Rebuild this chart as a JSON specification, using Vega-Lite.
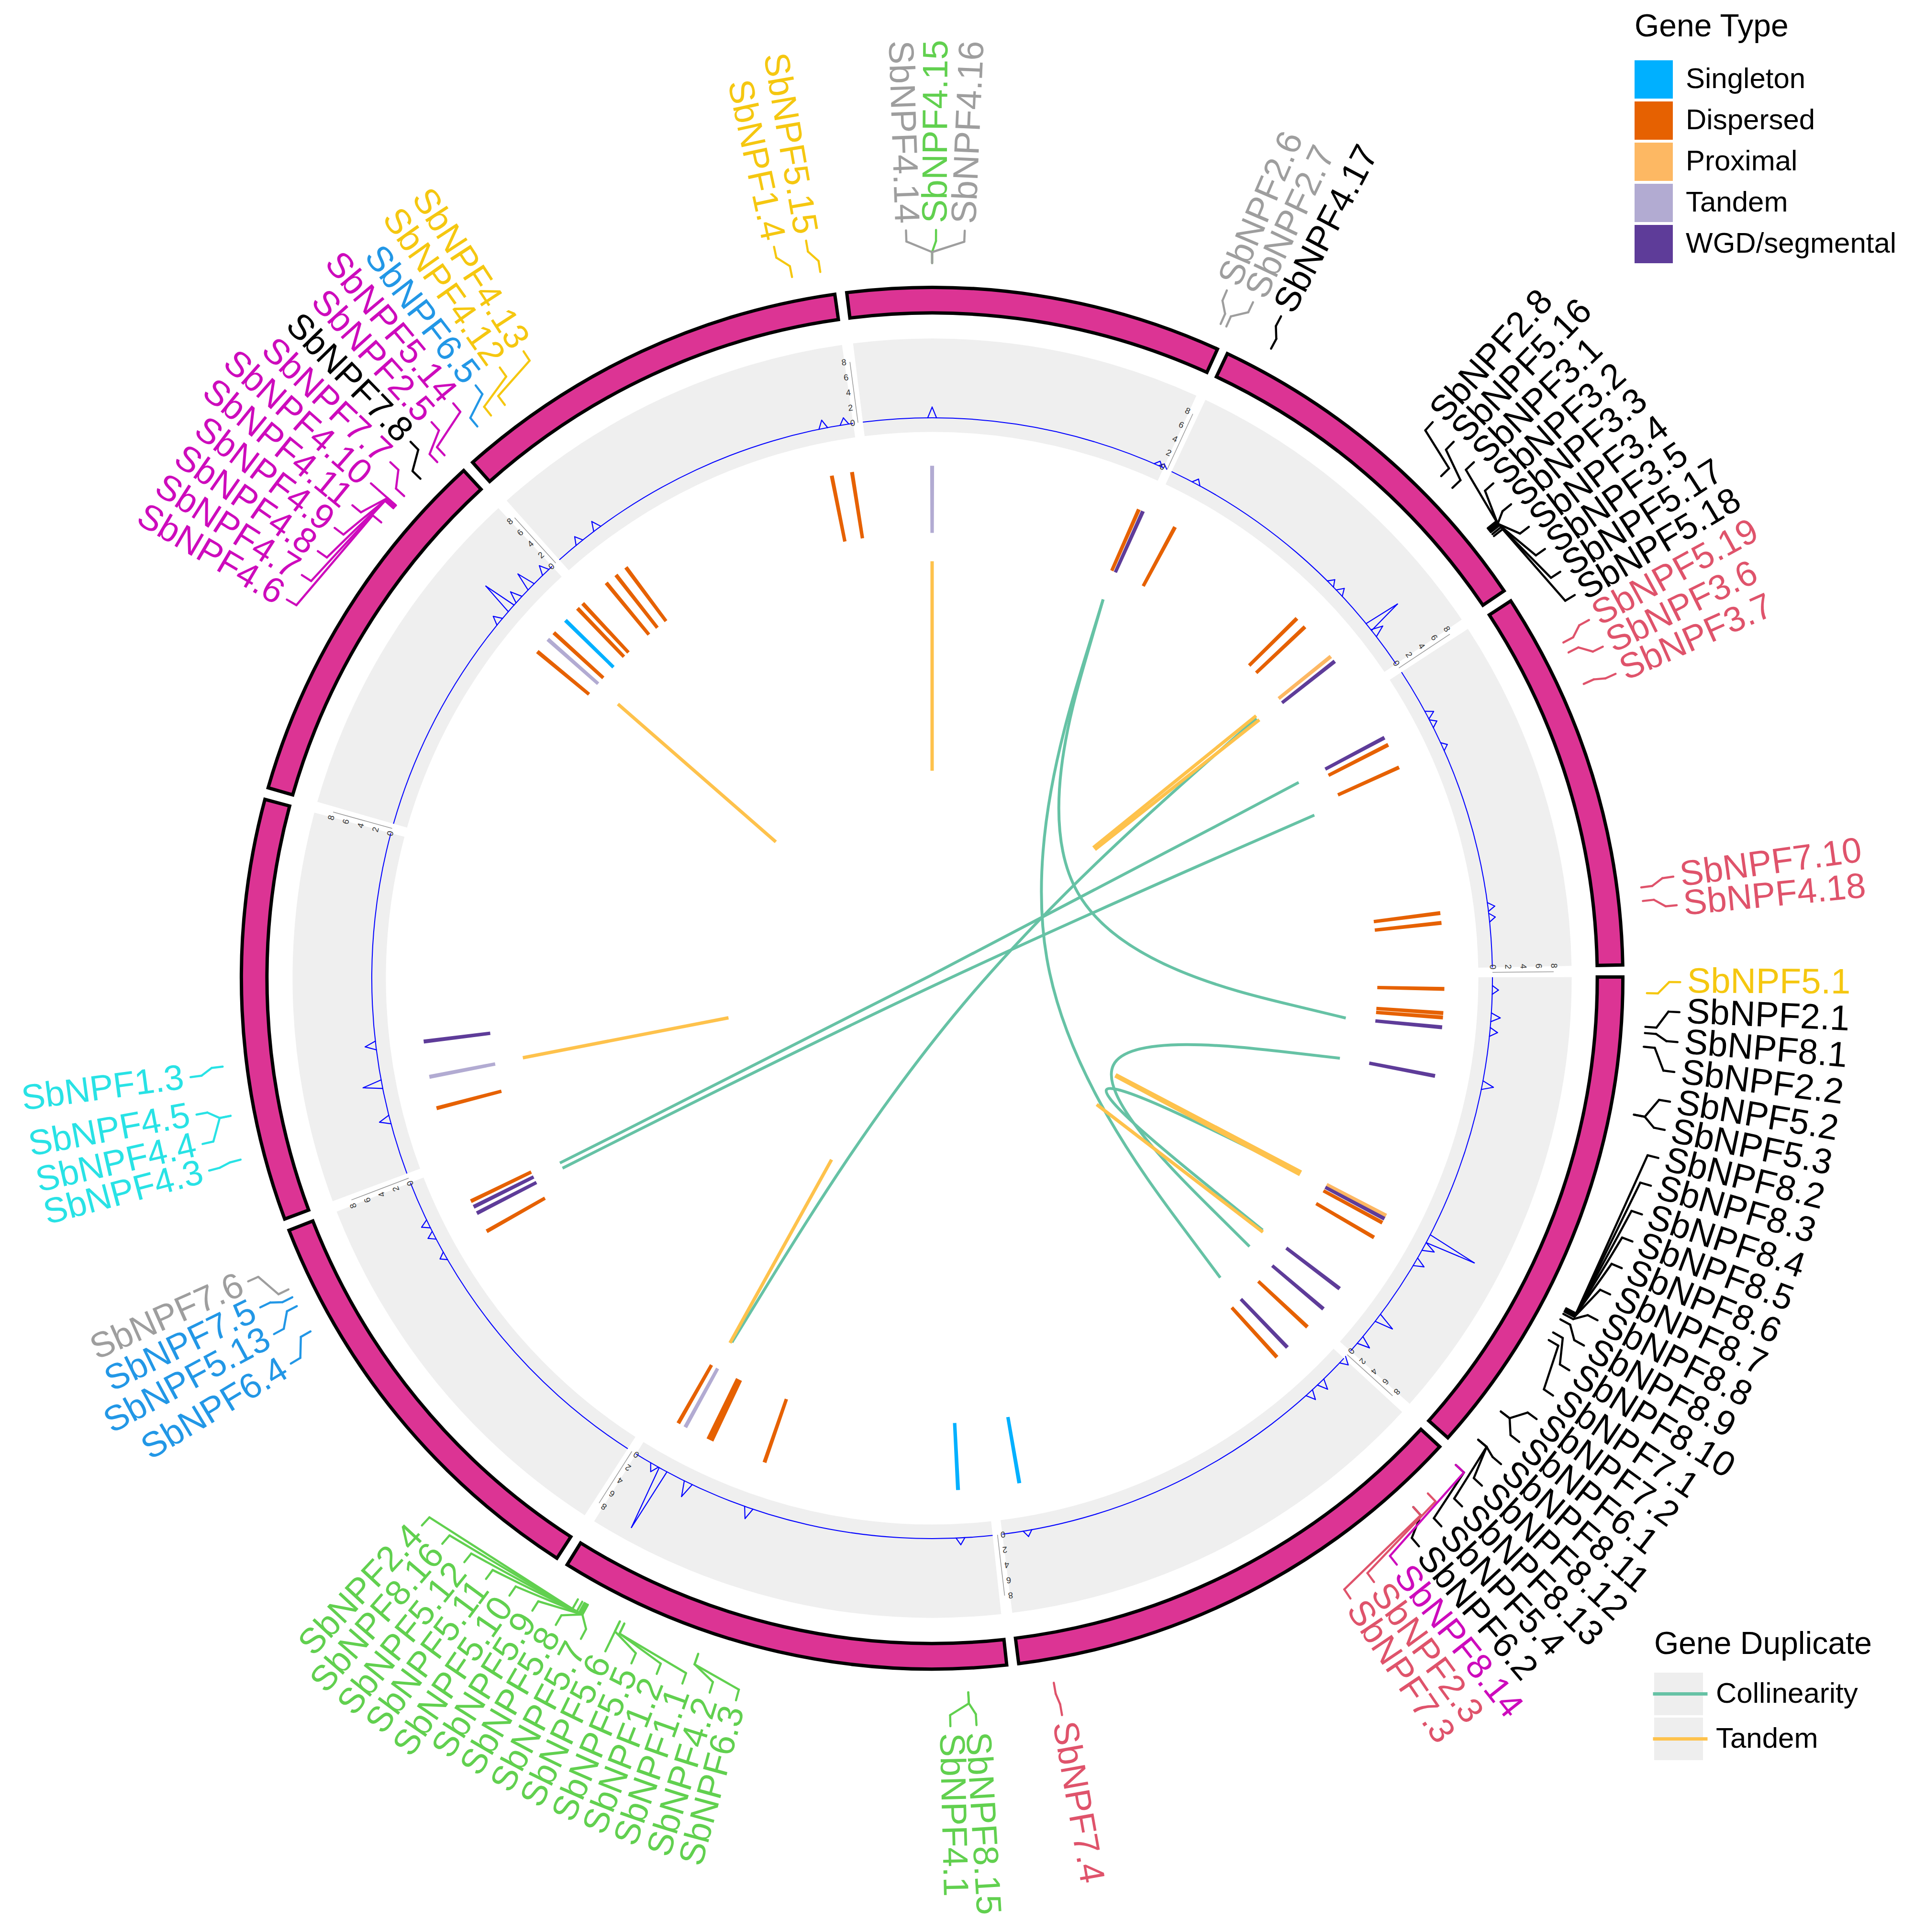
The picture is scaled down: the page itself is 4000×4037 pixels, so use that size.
{
"$schema": "https://vega.github.io/schema/vega-lite/v6.json",
"width": 4000, "height": 4037, "padding": 0, "autosize": {"type": "none"},
"background": "white",
"config": {"view": {"stroke": null}, "axis": {"disable": true}, "font": "Liberation Sans",
  "legend": {"titleFontWeight": "normal", "titleColor": "#000", "labelColor": "#000", "titleFont": "Liberation Sans", "labelFont": "Liberation Sans", "labelLimit": 2000, "titleLimit": 2000}},
"datasets": {
"chr": [
{"c":"Chr01","a0":89.9,"a1":131.7,"ticks":[0,2,4,6,8]},{"c":"Chr02","a0":132.7,"a1":172.8,"ticks":[0,2,4,6,8]},{"c":"Chr03","a0":173.8,"a1":211.9,"ticks":[0,2,4,6,8]},
{"c":"Chr04","a0":212.9,"a1":248.6,"ticks":[0,2,4,6,8]},{"c":"Chr05","a0":249.6,"a1":285.0,"ticks":[0,2,4,6,8]},{"c":"Chr06","a0":286.0,"a1":317.3,"ticks":[0,2,4,6,8]},
{"c":"Chr07","a0":318.3,"a1":351.9,"ticks":[0,2,4,6,8]},{"c":"Chr08","a0":352.9,"a1":384.4,"ticks":[0,2,4,6,8]},{"c":"Chr09","a0":385.3,"a1":415.9,"ticks":[0,2,4,6,8]},
{"c":"Chr10","a0":416.9,"a1":448.9,"ticks":[0,2,4,6,8]}],
"genes": [
{"a":309.6,"type":"Dispersed"},{"a":311.4,"type":"Tandem"},{"a":312.4,"type":"Dispersed"},{"a":314.3,"type":"Singleton"},
{"a":316.2,"type":"Dispersed"},{"a":317.0,"type":"Dispersed"},{"a":320.5,"type":"Dispersed"},{"a":321.9,"type":"Dispersed"},
{"a":323.3,"type":"Dispersed"},{"a":348.7,"type":"Dispersed"},{"a":351.0,"type":"Dispersed"},{"a":360.0,"type":"Tandem"},
{"a":383.8,"type":"Dispersed"},{"a":384.3,"type":"WGD/segmental"},{"a":388.3,"type":"Dispersed"},{"a":405.4,"type":"Dispersed"},
{"a":406.7,"type":"Dispersed"},{"a":411.1,"type":"Proximal"},{"a":411.8,"type":"WGD/segmental"},{"a":422.0,"type":"WGD/segmental"},
{"a":422.9,"type":"Dispersed"},{"a":425.7,"type":"Dispersed"},{"a":442.7,"type":"Dispersed"},{"a":443.8,"type":"Dispersed"},
{"a":91.2,"type":"Dispersed"},{"a":93.9,"type":"Dispersed"},{"a":94.4,"type":"Dispersed"},{"a":95.5,"type":"WGD/segmental"},
{"a":101.0,"type":"WGD/segmental"},{"a":117.6,"type":"Proximal"},{"a":118.0,"type":"WGD/segmental"},{"a":118.5,"type":"Dispersed"},
{"a":120.4,"type":"Dispersed"},{"a":127.3,"type":"WGD/segmental"},{"a":130.2,"type":"WGD/segmental"},{"a":132.9,"type":"Dispersed"},
{"a":136.1,"type":"WGD/segmental"},{"a":137.7,"type":"Dispersed"},{"a":170.2,"type":"Singleton"},{"a":177.1,"type":"Singleton"},
{"a":199.1,"type":"Dispersed"},{"a":205.5,"type":"Dispersed"},{"a":205.9,"type":"Dispersed"},{"a":208.8,"type":"Tandem"},
{"a":209.7,"type":"Dispersed"},{"a":240.4,"type":"Dispersed"},{"a":242.7,"type":"WGD/segmental"},{"a":243.5,"type":"WGD/segmental"},
{"a":244.2,"type":"Dispersed"},{"a":255.3,"type":"Dispersed"},{"a":258.9,"type":"Tandem"},{"a":262.9,"type":"WGD/segmental"}],
"tandem": [
{"a":0.0,"dup":"Tandem"},{"a":311.1,"dup":"Tandem"},{"a":51.0,"dup":"Tandem"},{"a":51.7,"dup":"Tandem"},
{"a":117.7,"dup":"Tandem"},{"a":118.1,"dup":"Tandem"},{"a":127.5,"dup":"Tandem"},{"a":209.0,"dup":"Tandem"},{"a":259.0,"dup":"Tandem"}],
"links": [
{"id":"A","i":1,"a":24.3,"r":0.601,"dup":"Collinearity"},{"id":"A","i":2,"a":80.2,"r":0.0841,"dup":"Collinearity"},{"id":"A","i":3,"a":136.1,"r":0.601,"dup":"Collinearity"},
{"id":"B","i":1,"a":24.3,"r":0.601,"dup":"Collinearity"},{"id":"B","i":2,"a":59.9,"r":0.1221,"dup":"Collinearity"},{"id":"B","i":3,"a":95.5,"r":0.601,"dup":"Collinearity"},
{"id":"C1","i":1,"a":61.9,"r":0.601,"dup":"Collinearity"},{"id":"C1","i":2,"a":332.75,"r":0.0022,"dup":"Collinearity"},{"id":"C1","i":3,"a":243.6,"r":0.601,"dup":"Collinearity"},
{"id":"C2","i":1,"a":66.9,"r":0.601,"dup":"Collinearity"},{"id":"C2","i":2,"a":154.85,"r":0.0054,"dup":"Collinearity"},{"id":"C2","i":3,"a":242.8,"r":0.601,"dup":"Collinearity"},
{"id":"D","i":1,"a":51.3,"r":0.601,"dup":"Collinearity"},{"id":"D","i":2,"a":130.05,"r":0.0293,"dup":"Collinearity"},{"id":"D","i":3,"a":208.8,"r":0.601,"dup":"Collinearity"},
{"id":"E","i":1,"a":101.1,"r":0.601,"dup":"Collinearity"},{"id":"E","i":2,"a":115.65,"r":0.1452,"dup":"Collinearity"},{"id":"E","i":3,"a":130.2,"r":0.601,"dup":"Collinearity"},
{"id":"F","i":1,"a":117.9,"r":0.601,"dup":"Collinearity"},{"id":"F","i":2,"a":122.6,"r":0.1495,"dup":"Collinearity"},{"id":"F","i":3,"a":127.3,"r":0.601,"dup":"Collinearity"}],
"spikes": [
{"a":309.5,"v":1.1},{"a":311.3,"v":4.4},{"a":312.5,"v":1.5},{"a":314.3,"v":2.4},{"a":316.4,"v":1.2},{"a":321.0,"v":1.0},
{"a":323.3,"v":1.2},{"a":348.8,"v":1.1},{"a":351.0,"v":0.9},{"a":0.0,"v":1.4},{"a":23.8,"v":0.6},{"a":24.3,"v":0.5},
{"a":28.1,"v":0.7},{"a":45.3,"v":0.8},{"a":46.6,"v":0.9},{"a":51.2,"v":4.8},{"a":52.0,"v":1.5},{"a":62.0,"v":1.0},
{"a":63.0,"v":0.8},{"a":65.6,"v":0.7},{"a":82.7,"v":0.9},{"a":83.8,"v":0.8},{"a":91.2,"v":0.8},{"a":94.0,"v":1.2},
{"a":95.5,"v":1.0},{"a":101.0,"v":1.5},{"a":117.7,"v":6.8},{"a":118.6,"v":1.5},{"a":120.4,"v":1.3},{"a":127.3,"v":2.4},
{"a":130.2,"v":1.6},{"a":132.9,"v":1.0},{"a":136.1,"v":1.3},{"a":137.7,"v":1.2},{"a":170.2,"v":0.8},{"a":177.1,"v":0.9},
{"a":199.1,"v":1.5},{"a":205.8,"v":2.0},{"a":208.7,"v":8.6},{"a":209.7,"v":1.0},{"a":240.3,"v":0.8},{"a":242.7,"v":0.9},
{"a":244.0,"v":1.0},{"a":255.4,"v":1.4},{"a":259.1,"v":2.5},{"a":263.1,"v":1.4}],
"labels": [
{"g":"SbNPF4.13","ga":323.3,"la":326.9,"grp":"7"},{"g":"SbNPF4.12","ga":321.9,"la":324.7,"grp":"7"},
{"g":"SbNPF6.5","ga":320.5,"la":322.4,"grp":"4"},{"g":"SbNPF5.14","ga":317.0,"la":320.2,"grp":"6"},
{"g":"SbNPF2.5","ga":316.2,"la":318.0,"grp":"6"},{"g":"SbNPF7.8","ga":314.3,"la":315.8,"grp":"1"},
{"g":"SbNPF7.7","ga":312.4,"la":313.6,"grp":"6"},{"g":"SbNPF4.10","ga":311.4,"la":311.4,"grp":"6"},
{"g":"SbNPF4.11","ga":311.4,"la":309.2,"grp":"6"},{"g":"SbNPF4.9","ga":311.3,"la":307.0,"grp":"6"},
{"g":"SbNPF4.8","ga":311.2,"la":304.8,"grp":"6"},{"g":"SbNPF4.7","ga":311.1,"la":302.6,"grp":"6"},
{"g":"SbNPF4.6","ga":309.6,"la":300.4,"grp":"6"},
{"g":"SbNPF1.4","ga":348.7,"la":347.8,"grp":"7"},{"g":"SbNPF5.15","ga":351.0,"la":350.3,"grp":"7"},
{"g":"SbNPF4.14","ga":0.0,"la":358.0,"grp":"8"},{"g":"SbNPF4.15","ga":0.0,"la":0.3,"grp":"3"},
{"g":"SbNPF4.16","ga":0.0,"la":2.5,"grp":"8"},{"g":"SbNPF2.6","ga":23.8,"la":23.2,"grp":"8"},
{"g":"SbNPF2.7","ga":24.3,"la":25.4,"grp":"8"},{"g":"SbNPF4.17","ga":28.3,"la":27.8,"grp":"1"},
{"g":"SbNPF2.8","ga":45.4,"la":42.0,"grp":"1"},{"g":"SbNPF5.16","ga":46.7,"la":44.2,"grp":"1"},
{"g":"SbNPF3.1","ga":51.0,"la":46.4,"grp":"1"},{"g":"SbNPF3.2","ga":51.1,"la":48.6,"grp":"1"},
{"g":"SbNPF3.3","ga":51.2,"la":50.7,"grp":"1"},{"g":"SbNPF3.4","ga":51.3,"la":52.9,"grp":"1"},
{"g":"SbNPF3.5","ga":51.4,"la":55.0,"grp":"1"},{"g":"SbNPF5.17","ga":51.6,"la":57.1,"grp":"1"},
{"g":"SbNPF5.18","ga":51.8,"la":59.2,"grp":"1"},{"g":"SbNPF5.19","ga":62.0,"la":61.4,"grp":"2"},
{"g":"SbNPF3.6","ga":62.9,"la":63.7,"grp":"2"},{"g":"SbNPF3.7","ga":65.7,"la":66.0,"grp":"2"},
{"g":"SbNPF7.10","ga":82.7,"la":82.2,"grp":"2"},{"g":"SbNPF4.18","ga":83.8,"la":84.4,"grp":"2"},
{"g":"SbNPF5.1","ga":91.2,"la":90.3,"grp":"7"},{"g":"SbNPF2.1","ga":93.9,"la":92.6,"grp":"1"},
{"g":"SbNPF8.1","ga":94.4,"la":94.9,"grp":"1"},{"g":"SbNPF2.2","ga":95.5,"la":97.2,"grp":"1"},
{"g":"SbNPF5.2","ga":101.0,"la":99.5,"grp":"1"},{"g":"SbNPF5.3","ga":101.0,"la":101.7,"grp":"1"},
{"g":"SbNPF8.2","ga":117.5,"la":103.9,"grp":"1"},{"g":"SbNPF8.3","ga":117.6,"la":106.1,"grp":"1"},
{"g":"SbNPF8.4","ga":117.6,"la":108.4,"grp":"1"},{"g":"SbNPF8.5","ga":117.7,"la":110.6,"grp":"1"},
{"g":"SbNPF8.6","ga":117.7,"la":112.8,"grp":"1"},{"g":"SbNPF8.7","ga":117.8,"la":115.0,"grp":"1"},
{"g":"SbNPF8.8","ga":118.0,"la":117.2,"grp":"1"},{"g":"SbNPF8.9","ga":118.5,"la":119.4,"grp":"1"},
{"g":"SbNPF8.10","ga":119.7,"la":121.6,"grp":"1"},{"g":"SbNPF7.1","ga":120.4,"la":123.9,"grp":"1"},
{"g":"SbNPF7.2","ga":127.3,"la":126.1,"grp":"1"},{"g":"SbNPF6.1","ga":127.3,"la":128.3,"grp":"1"},
{"g":"SbNPF8.11","ga":130.2,"la":130.5,"grp":"1"},{"g":"SbNPF8.12","ga":130.2,"la":132.7,"grp":"1"},
{"g":"SbNPF8.13","ga":130.2,"la":134.9,"grp":"1"},{"g":"SbNPF5.4","ga":132.9,"la":137.1,"grp":"1"},
{"g":"SbNPF6.2","ga":137.7,"la":139.4,"grp":"1"},{"g":"SbNPF8.14","ga":132.9,"la":141.6,"grp":"6"},
{"g":"SbNPF2.3","ga":136.1,"la":143.8,"grp":"2"},{"g":"SbNPF7.3","ga":137.7,"la":146.0,"grp":"2"},
{"g":"SbNPF7.4","ga":170.2,"la":170.0,"grp":"2"},{"g":"SbNPF8.15","ga":177.1,"la":176.6,"grp":"3"},
{"g":"SbNPF4.1","ga":177.1,"la":178.6,"grp":"3"},
{"g":"SbNPF6.3","ga":199.1,"la":195.2,"grp":"3"},{"g":"SbNPF4.2","ga":199.1,"la":197.3,"grp":"3"},
{"g":"SbNPF1.1","ga":205.5,"la":199.5,"grp":"3"},{"g":"SbNPF1.2","ga":205.5,"la":201.6,"grp":"3"},
{"g":"SbNPF5.5","ga":205.9,"la":203.7,"grp":"3"},{"g":"SbNPF5.6","ga":205.9,"la":205.9,"grp":"3"},
{"g":"SbNPF5.7","ga":208.8,"la":208.0,"grp":"3"},{"g":"SbNPF5.8","ga":208.8,"la":210.2,"grp":"3"},
{"g":"SbNPF5.9","ga":208.8,"la":212.3,"grp":"3"},{"g":"SbNPF5.10","ga":208.9,"la":214.4,"grp":"3"},
{"g":"SbNPF5.11","ga":209.0,"la":216.6,"grp":"3"},{"g":"SbNPF5.12","ga":209.1,"la":218.7,"grp":"3"},
{"g":"SbNPF8.16","ga":209.3,"la":220.9,"grp":"3"},{"g":"SbNPF2.4","ga":209.7,"la":223.0,"grp":"3"},
{"g":"SbNPF6.4","ga":240.4,"la":239.0,"grp":"4"},{"g":"SbNPF5.13","ga":242.7,"la":241.6,"grp":"4"},
{"g":"SbNPF7.5","ga":243.5,"la":243.9,"grp":"4"},{"g":"SbNPF7.6","ga":244.2,"la":246.1,"grp":"8"},
{"g":"SbNPF4.3","ga":255.3,"la":255.1,"grp":"5"},{"g":"SbNPF4.4","ga":258.9,"la":257.2,"grp":"5"},
{"g":"SbNPF4.5","ga":258.9,"la":259.5,"grp":"5"},{"g":"SbNPF1.3","ga":262.9,"la":262.4,"grp":"5"}]
},
"layer": [
{"data": {"name": "chr"}, "mark": {"type": "arc", "fill": "#EFEFEF"},
 "encoding": {
  "x": {"datum": 0, "type": "quantitative", "scale": {"domain": [-1.3481, 1.42007], "nice": false, "zero": false}, "axis": null},
  "y": {"datum": 0, "type": "quantitative", "scale": {"domain": [-1.37924, 1.41453], "nice": false, "zero": false}, "axis": null},
  "theta": {"field": "a0", "type": "quantitative", "stack": null, "scale": {"domain": [0, 360], "range": [0, 6.283185307179586]}},
  "theta2": {"field": "a1"},
  "radius": {"datum": 0.790, "type": "quantitative", "scale": {"type": "linear", "domain": [0, 1], "range": [0, 1445], "zero": true, "nice": false}},
  "radius2": {"datum": 0.925}}},
{"data": {"name": "chr"}, "mark": {"type": "arc", "fill": "#0000FF"},
 "encoding": {
  "x": {"datum": 0, "type": "quantitative", "scale": {"domain": [-1.3481, 1.42007], "nice": false, "zero": false}, "axis": null},
  "y": {"datum": 0, "type": "quantitative", "scale": {"domain": [-1.37924, 1.41453], "nice": false, "zero": false}, "axis": null},
  "theta": {"field": "a0", "type": "quantitative", "stack": null, "scale": {"domain": [0, 360], "range": [0, 6.283185307179586]}},
  "theta2": {"field": "a1"},
  "radius": {"datum": 0.8097, "type": "quantitative", "scale": {"type": "linear", "domain": [0, 1], "range": [0, 1445], "zero": true, "nice": false}},
  "radius2": {"datum": 0.8111}}},
{"data": {"name": "spikes"},
 "transform": [
  {"calculate": "0.8104 + datum.v*0.01107", "as": "rv"},
  {"calculate": "0.8104*sin((datum.a-0.45)*PI/180)", "as": "xa"},
  {"calculate": "0.8104*cos((datum.a-0.45)*PI/180)", "as": "ya"},
  {"calculate": "datum.rv*sin(datum.a*PI/180)", "as": "xt"},
  {"calculate": "datum.rv*cos(datum.a*PI/180)", "as": "yt"}],
 "mark": {"type": "rule", "color": "#0000FF", "strokeWidth": 2.2, "strokeCap": "round"},
 "encoding": {
  "x": {"field": "xa", "type": "quantitative", "scale": {"domain": [-1.3481, 1.42007], "nice": false, "zero": false}, "axis": null},
  "y": {"field": "ya", "type": "quantitative", "scale": {"domain": [-1.37924, 1.41453], "nice": false, "zero": false}, "axis": null},
  "x2": {"field": "xt"}, "y2": {"field": "yt"}}},
{"data": {"name": "spikes"},
 "transform": [
  {"calculate": "0.8104 + datum.v*0.01107", "as": "rv"},
  {"calculate": "0.8104*sin((datum.a+0.45)*PI/180)", "as": "xb"},
  {"calculate": "0.8104*cos((datum.a+0.45)*PI/180)", "as": "yb"},
  {"calculate": "datum.rv*sin(datum.a*PI/180)", "as": "xt"},
  {"calculate": "datum.rv*cos(datum.a*PI/180)", "as": "yt"}],
 "mark": {"type": "rule", "color": "#0000FF", "strokeWidth": 2.2, "strokeCap": "round"},
 "encoding": {
  "x": {"field": "xt", "type": "quantitative", "scale": {"domain": [-1.3481, 1.42007], "nice": false, "zero": false}, "axis": null},
  "y": {"field": "yt", "type": "quantitative", "scale": {"domain": [-1.37924, 1.41453], "nice": false, "zero": false}, "axis": null},
  "x2": {"field": "xb"}, "y2": {"field": "yb"}}},
{"data": {"name": "chr"},
 "transform": [
  {"calculate": "0.8104*sin((datum.a0-0.5)*PI/180)", "as": "x1"},
  {"calculate": "0.8104*cos((datum.a0-0.5)*PI/180)", "as": "y1"},
  {"calculate": "0.899*sin((datum.a0-0.5)*PI/180)", "as": "x2"},
  {"calculate": "0.899*cos((datum.a0-0.5)*PI/180)", "as": "y2"}],
 "mark": {"type": "rule", "color": "#999999", "strokeWidth": 1.5},
 "encoding": {
  "x": {"field": "x1", "type": "quantitative", "scale": {"domain": [-1.3481, 1.42007], "nice": false, "zero": false}, "axis": null},
  "y": {"field": "y1", "type": "quantitative", "scale": {"domain": [-1.37924, 1.41453], "nice": false, "zero": false}, "axis": null},
  "x2": {"field": "x2"}, "y2": {"field": "y2"}}},
{"data": {"name": "chr"},
 "transform": [
  {"flatten": ["ticks"], "as": ["v"]},
  {"calculate": "(0.8104 + datum.v*0.01107)*sin((datum.a0-1.05)*PI/180)", "as": "tx"},
  {"calculate": "(0.8104 + datum.v*0.01107)*cos((datum.a0-1.05)*PI/180)", "as": "ty"},
  {"calculate": "datum.a0 - 0.5", "as": "rot"}],
 "mark": {"type": "text", "fontSize": 18, "color": "#333333", "align": "center", "baseline": "middle"},
 "encoding": {
  "x": {"field": "tx", "type": "quantitative", "scale": {"domain": [-1.3481, 1.42007], "nice": false, "zero": false}, "axis": null},
  "y": {"field": "ty", "type": "quantitative", "scale": {"domain": [-1.37924, 1.41453], "nice": false, "zero": false}, "axis": null},
  "text": {"field": "v", "type": "quantitative"},
  "angle": {"field": "rot", "type": "quantitative", "scale": null}}},
{"data": {"name": "tandem"}, "mark": {"type": "point", "filled": true, "color": "#EEEEEE", "size": 1},
 "encoding": {
  "x": {"datum": 0, "type": "quantitative", "scale": {"domain": [-1.3481, 1.42007], "nice": false, "zero": false}, "axis": null},
  "y": {"datum": 0.98, "type": "quantitative", "scale": {"domain": [-1.37924, 1.41453], "nice": false, "zero": false}, "axis": null},
  "shape": {"field": "dup", "type": "nominal",
   "scale": {"domain": ["Collinearity", "Tandem"], "range": ["M-1,-0.873H1V0.873H-1Z", "M-1,-0.873H1V0.873H-1Z"]},
   "legend": {"title": "Gene Duplicate", "orient": "none", "legendX": 3457, "legendY": 3404, "symbolSize": 10404,
    "symbolStrokeWidth": 0, "symbolFillColor": "#EEEEEE", "symbolOpacity": 1, "clipHeight": 89, "rowPadding": 5, "labelOffset": 27,
    "labelFontSize": 60, "titleFontSize": 66, "titlePadding": 25, "padding": 0, "zindex": 1}}}},
{"data": {"name": "chr"}, "mark": {"type": "arc", "fill": "#DC3494", "stroke": "#000000", "strokeWidth": 7},
 "encoding": {
  "x": {"datum": 0, "type": "quantitative", "scale": {"domain": [-1.3481, 1.42007], "nice": false, "zero": false}, "axis": null},
  "y": {"datum": 0, "type": "quantitative", "scale": {"domain": [-1.37924, 1.41453], "nice": false, "zero": false}, "axis": null},
  "theta": {"field": "a0", "type": "quantitative", "stack": null, "scale": {"domain": [0, 360], "range": [0, 6.283185307179586]}},
  "theta2": {"field": "a1"},
  "radius": {"datum": 0.962, "type": "quantitative", "scale": {"type": "linear", "domain": [0, 1], "range": [0, 1445], "zero": true, "nice": false}},
  "radius2": {"datum": 0.999}}},
{"data": {"name": "genes"},
 "transform": [{"calculate": "datum.a - 0.22", "as": "t0"}, {"calculate": "datum.a + 0.22", "as": "t1"}],
 "mark": {"type": "arc"},
 "encoding": {
  "x": {"datum": 0, "type": "quantitative", "scale": {"domain": [-1.3481, 1.42007], "nice": false, "zero": false}, "axis": null},
  "y": {"datum": 0, "type": "quantitative", "scale": {"domain": [-1.37924, 1.41453], "nice": false, "zero": false}, "axis": null},
  "theta": {"field": "t0", "type": "quantitative", "stack": null, "scale": {"domain": [0, 360], "range": [0, 6.283185307179586]}},
  "theta2": {"field": "t1"},
  "radius": {"datum": 0.644, "type": "quantitative", "scale": {"type": "linear", "domain": [0, 1], "range": [0, 1445], "zero": true, "nice": false}},
  "radius2": {"datum": 0.741},
  "fill": {"field": "type", "type": "nominal",
   "scale": {"domain": ["Singleton", "Dispersed", "Proximal", "Tandem", "WGD/segmental"], "range": ["#00B0FF", "#E66101", "#FDB863", "#B2ABD2", "#5E3C99"]},
   "legend": {"title": "Gene Type", "orient": "none", "legendX": 3416, "legendY": 24, "symbolType": "square", "symbolSize": 6400,
    "symbolStrokeWidth": 0, "symbolOpacity": 1, "labelFontSize": 60, "titleFontSize": 66, "rowPadding": 6, "labelOffset": 27,
    "titlePadding": 36, "padding": 0}}}},
{"data": {"name": "links"},
 "transform": [
  {"calculate": "datum.r*sin(datum.a*PI/180)", "as": "x"},
  {"calculate": "datum.r*cos(datum.a*PI/180)", "as": "y"}],
 "mark": {"type": "line", "interpolate": "basis", "strokeWidth": 6},
 "encoding": {
  "x": {"field": "x", "type": "quantitative", "scale": {"domain": [-1.3481, 1.42007], "nice": false, "zero": false}, "axis": null},
  "y": {"field": "y", "type": "quantitative", "scale": {"domain": [-1.37924, 1.41453], "nice": false, "zero": false}, "axis": null},
  "order": {"field": "i", "type": "quantitative"},
  "detail": {"field": "id", "type": "nominal"},
  "stroke": {"field": "dup", "type": "nominal", "scale": {"range": ["#66C2A5", "#FEC24C"]},
   "legend": {"title": null, "orient": "none", "legendX": 3451, "legendY": 3495, "symbolType": "stroke", "symbolSize": 12996,
    "symbolStrokeWidth": 7, "clipHeight": 89, "rowPadding": 5, "labelOffset": 21, "labelFontSize": 60, "labelOpacity": 0,
    "padding": 0, "zindex": 2}}}},
{"data": {"name": "tandem"},
 "transform": [
  {"calculate": "0.603*sin(datum.a*PI/180)", "as": "x1"},
  {"calculate": "0.603*cos(datum.a*PI/180)", "as": "y1"},
  {"calculate": "0.300*sin(datum.a*PI/180)", "as": "x2"},
  {"calculate": "0.300*cos(datum.a*PI/180)", "as": "y2"}],
 "mark": {"type": "rule", "strokeWidth": 7},
 "encoding": {
  "x": {"field": "x1", "type": "quantitative", "scale": {"domain": [-1.3481, 1.42007], "nice": false, "zero": false}, "axis": null},
  "y": {"field": "y1", "type": "quantitative", "scale": {"domain": [-1.37924, 1.41453], "nice": false, "zero": false}, "axis": null},
  "x2": {"field": "x2"}, "y2": {"field": "y2"},
  "stroke": {"field": "dup", "type": "nominal"}}},
{"data": {"name": "labels"},
 "transform": [
  {"calculate": "1.034*sin(datum.ga*PI/180)", "as": "x1"},
  {"calculate": "1.034*cos(datum.ga*PI/180)", "as": "y1"},
  {"calculate": "1.050*sin(datum.ga*PI/180)", "as": "x2"},
  {"calculate": "1.050*cos(datum.ga*PI/180)", "as": "y2"}],
 "mark": {"type": "rule", "strokeWidth": 4.5, "strokeCap": "round"},
 "encoding": {
  "x": {"field": "x1", "type": "quantitative", "scale": {"domain": [-1.3481, 1.42007], "nice": false, "zero": false}, "axis": null},
  "y": {"field": "y1", "type": "quantitative", "scale": {"domain": [-1.37924, 1.41453], "nice": false, "zero": false}, "axis": null},
  "x2": {"field": "x2"}, "y2": {"field": "y2"},
  "color": {"field": "grp", "type": "nominal", "legend": null,
   "scale": {"domain": ["1","2","3","4","5","6","7","8"], "range": ["#000000","#DF536B","#61D04F","#2297E6","#28E2E5","#CD0BBC","#F5C710","#9E9E9E"]}}}},
{"data": {"name": "labels"},
 "transform": [
  {"calculate": "1.050*sin(datum.ga*PI/180)", "as": "x1"},
  {"calculate": "1.050*cos(datum.ga*PI/180)", "as": "y1"},
  {"calculate": "1.066*sin(datum.la*PI/180)", "as": "x2"},
  {"calculate": "1.066*cos(datum.la*PI/180)", "as": "y2"}],
 "mark": {"type": "rule", "strokeWidth": 4.5, "strokeCap": "round"},
 "encoding": {
  "x": {"field": "x1", "type": "quantitative", "scale": {"domain": [-1.3481, 1.42007], "nice": false, "zero": false}, "axis": null},
  "y": {"field": "y1", "type": "quantitative", "scale": {"domain": [-1.37924, 1.41453], "nice": false, "zero": false}, "axis": null},
  "x2": {"field": "x2"}, "y2": {"field": "y2"},
  "color": {"field": "grp", "type": "nominal", "legend": null}}},
{"data": {"name": "labels"},
 "transform": [
  {"calculate": "1.066*sin(datum.la*PI/180)", "as": "x1"},
  {"calculate": "1.066*cos(datum.la*PI/180)", "as": "y1"},
  {"calculate": "1.082*sin(datum.la*PI/180)", "as": "x2"},
  {"calculate": "1.082*cos(datum.la*PI/180)", "as": "y2"}],
 "mark": {"type": "rule", "strokeWidth": 4.5, "strokeCap": "round"},
 "encoding": {
  "x": {"field": "x1", "type": "quantitative", "scale": {"domain": [-1.3481, 1.42007], "nice": false, "zero": false}, "axis": null},
  "y": {"field": "y1", "type": "quantitative", "scale": {"domain": [-1.37924, 1.41453], "nice": false, "zero": false}, "axis": null},
  "x2": {"field": "x2"}, "y2": {"field": "y2"},
  "color": {"field": "grp", "type": "nominal", "legend": null}}},
{"data": {"name": "labels"},
 "transform": [
  {"filter": "datum.la < 180"},
  {"calculate": "1.092*sin(datum.la*PI/180)", "as": "tx"},
  {"calculate": "1.092*cos(datum.la*PI/180)", "as": "ty"},
  {"calculate": "datum.la - 90", "as": "rot"}],
 "mark": {"type": "text", "align": "left", "baseline": "middle", "fontSize": 74, "font": "Liberation Sans"},
 "encoding": {
  "x": {"field": "tx", "type": "quantitative", "scale": {"domain": [-1.3481, 1.42007], "nice": false, "zero": false}, "axis": null},
  "y": {"field": "ty", "type": "quantitative", "scale": {"domain": [-1.37924, 1.41453], "nice": false, "zero": false}, "axis": null},
  "text": {"field": "g"},
  "angle": {"field": "rot", "type": "quantitative", "scale": null},
  "color": {"field": "grp", "type": "nominal", "legend": null}}},
{"data": {"name": "labels"},
 "transform": [
  {"filter": "datum.la >= 180"},
  {"calculate": "1.092*sin(datum.la*PI/180)", "as": "tx"},
  {"calculate": "1.092*cos(datum.la*PI/180)", "as": "ty"},
  {"calculate": "datum.la - 270", "as": "rot"}],
 "mark": {"type": "text", "align": "right", "baseline": "middle", "fontSize": 74, "font": "Liberation Sans"},
 "encoding": {
  "x": {"field": "tx", "type": "quantitative", "scale": {"domain": [-1.3481, 1.42007], "nice": false, "zero": false}, "axis": null},
  "y": {"field": "ty", "type": "quantitative", "scale": {"domain": [-1.37924, 1.41453], "nice": false, "zero": false}, "axis": null},
  "text": {"field": "g"},
  "angle": {"field": "rot", "type": "quantitative", "scale": null},
  "color": {"field": "grp", "type": "nominal", "legend": null}}}
]
}
